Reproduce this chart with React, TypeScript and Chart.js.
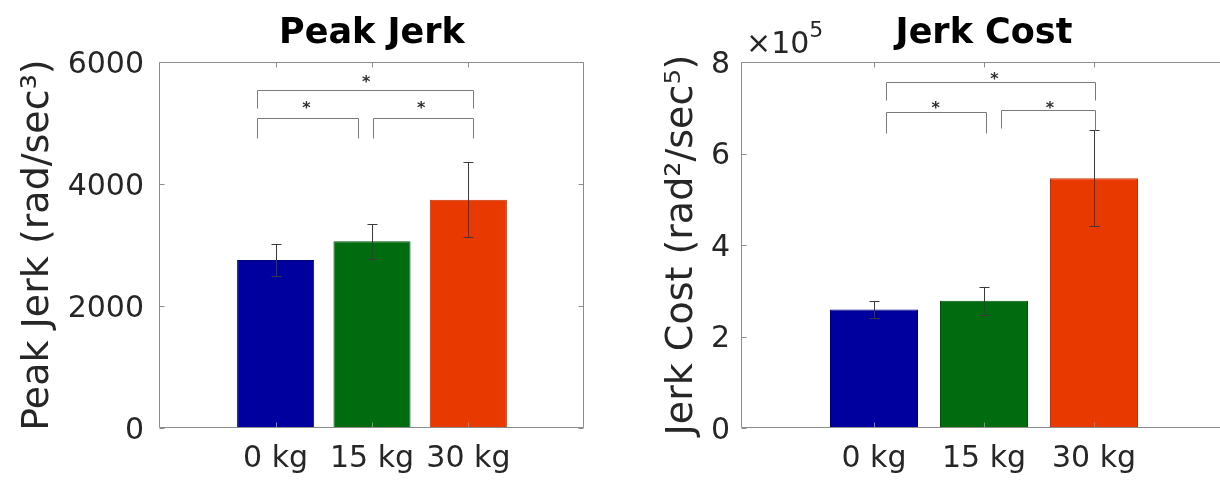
import React, { useEffect, useRef } from 'react';
import { Chart, registerables } from 'chart.js';

Chart.register(...registerables);

const FONT = 'DejaVu Sans';

// ---------- data ----------
const categories = ['0 kg', '15 kg', '30 kg'];
const categoryX = [1, 2, 3];
const barColors = ['#00009e', '#006b0f', '#e83a00'];
const barEdgeColors = ['#00007a', '#005509', '#c83200'];

const peakJerkMean = [2755, 3060, 3740];
const peakJerkErr = [260, 285, 615];
const peakJerkTicks = [0, 2000, 4000, 6000];

const jerkCostMean = [2.59e5, 2.78e5, 5.46e5];
const jerkCostErr = [0.18e5, 0.31e5, 1.05e5];
const jerkCostTicks = [0, 2e5, 4e5, 6e5, 8e5];

// significance brackets (data coordinates)
const peakBracketX1 = [0.81, 2.01, 0.81];
const peakBracketX2 = [1.85, 3.05, 3.05];
const peakBracketY = [5077, 5077, 5535];
const peakBracketDropL = [4754, 4754, 5238];
const peakBracketDropR = [4754, 4754, 5238];
const peakStarX = [1.32, 2.51, 1.94];
const peakStarY = [5323, 5323, 5749];

const costBracketX1 = [1.105, 2.156, 1.105];
const costBracketX2 = [2.014, 3.005, 3.005];
const costBracketY = [6.9e5, 6.95e5, 7.57e5];
const costBracketDropL = [6.44e5, 6.56e5, 7.17e5];
const costBracketDropR = [6.44e5, 6.51e5, 7.17e5];
const costStarX = [1.56, 2.6, 2.095];
const costStarY = [7.1e5, 7.1e5, 7.72e5];

type Panel = {
  id: string;
  title: string;
  yTitle: string;
  means: number[];
  errs: number[];
  yMax: number;
  yTicks: number[];
  tickFmt: (v: number) => string;
  bx1: number[];
  bx2: number[];
  by: number[];
  bdl: number[];
  bdr: number[];
  sx: number[];
  sy: number[];
  yAxisWidth: number;
  padRight: number;
  yTickPad: number;
  yTitlePad: number;
  exponent?: string;
  canvasLeft: number;
  canvasWidth: number;
};

const panels: Panel[] = [
  {
    id: 'peak',
    title: 'Peak Jerk',
    yTitle: 'Peak Jerk (rad/sec\u00B3)',
    means: peakJerkMean,
    errs: peakJerkErr,
    yMax: 6000,
    yTicks: peakJerkTicks,
    tickFmt: (v) => String(v),
    bx1: peakBracketX1,
    bx2: peakBracketX2,
    by: peakBracketY,
    bdl: peakBracketDropL,
    bdr: peakBracketDropR,
    sx: peakStarX,
    sy: peakStarY,
    yAxisWidth: 160,
    padRight: 26,
    yTickPad: 16,
    yTitlePad: 15,
    canvasLeft: 0,
    canvasWidth: 610,
  },
  {
    id: 'cost',
    title: 'Jerk Cost',
    yTitle: 'Jerk Cost (rad\u00B2/sec\u2075)',
    means: jerkCostMean,
    errs: jerkCostErr,
    yMax: 8e5,
    yTicks: jerkCostTicks,
    tickFmt: (v) => String(Math.round(v / 1e5)),
    bx1: costBracketX1,
    bx2: costBracketX2,
    by: costBracketY,
    bdl: costBracketDropL,
    bdr: costBracketDropR,
    sx: costStarX,
    sy: costStarY,
    yAxisWidth: 132,
    padRight: 14,
    yTickPad: 12,
    yTitlePad: 49,
    exponent: '5',
    canvasLeft: 610,
    canvasWidth: 630,
  },
];

function makeOverlay(p: Panel) {
  return {
    id: 'overlay_' + p.id,
    afterDatasetsDraw(chart: any) {
      const { ctx, chartArea: a, scales } = chart;
      const x = scales.x;
      const y = scales.y;
      const snap = (v: number) => Math.round(v) + 0.5;
      ctx.save();

      // error bars
      ctx.strokeStyle = '#3a3a3a';
      ctx.lineWidth = 1;
      p.means.forEach((m: number, i: number) => {
        const px = snap(x.getPixelForValue(categoryX[i]));
        const yTop = snap(y.getPixelForValue(m + p.errs[i]));
        const yBot = snap(y.getPixelForValue(m - p.errs[i]));
        ctx.beginPath();
        ctx.moveTo(px, yTop);
        ctx.lineTo(px, yBot);
        ctx.moveTo(px - 5, yTop);
        ctx.lineTo(px + 5, yTop);
        ctx.moveTo(px - 5, yBot);
        ctx.lineTo(px + 5, yBot);
        ctx.stroke();
      });

      // significance brackets
      ctx.strokeStyle = '#7a7a7a';
      p.by.forEach((bv: number, i: number) => {
        const x1 = snap(x.getPixelForValue(p.bx1[i]));
        const x2 = snap(x.getPixelForValue(p.bx2[i]));
        const yy = snap(y.getPixelForValue(bv));
        const yl = snap(y.getPixelForValue(p.bdl[i]));
        const yr = snap(y.getPixelForValue(p.bdr[i]));
        ctx.beginPath();
        ctx.moveTo(x1, yl);
        ctx.lineTo(x1, yy);
        ctx.lineTo(x2, yy);
        ctx.lineTo(x2, yr);
        ctx.stroke();
      });

      // stars
      ctx.fillStyle = '#303030';
      ctx.textAlign = 'center';
      ctx.textBaseline = 'alphabetic';
      const starSize = 16;
      ctx.font = `bold ${starSize}px "${FONT}"`;
      p.sx.forEach((sv: number, i: number) => {
        const px = x.getPixelForValue(sv);
        const py = y.getPixelForValue(p.sy[i]);
        ctx.fillText('*', px, py + 0.59 * starSize);
      });

      // axes box
      ctx.strokeStyle = '#8c8c8c';
      ctx.lineWidth = 1;
      const L = Math.round(a.left) - 0.5;
      const R = Math.round(a.right) - 0.5;
      const T = Math.round(a.top) + 0.5;
      const B = Math.round(a.bottom) - 0.5;
      ctx.beginPath();
      ctx.rect(L, T, R - L, B - T);
      // inward ticks
      const tl = 5;
      p.yTicks.forEach((tv: number) => {
        const py = snap(y.getPixelForValue(tv));
        ctx.moveTo(L, py);
        ctx.lineTo(L + tl, py);
        ctx.moveTo(R, py);
        ctx.lineTo(R - tl, py);
      });
      categoryX.forEach((cv: number) => {
        const px = snap(x.getPixelForValue(cv));
        ctx.moveTo(px, T);
        ctx.lineTo(px, T + tl);
        ctx.moveTo(px, B);
        ctx.lineTo(px, B - tl);
      });
      ctx.stroke();

      // exponent label
      if (p.exponent) {
        ctx.fillStyle = '#262626';
        ctx.textAlign = 'left';
        ctx.textBaseline = 'alphabetic';
        ctx.font = `30px "${FONT}"`;
        const ex = a.left + 4;
        ctx.fillText('\u00D710', ex, 53);
        const w = ctx.measureText('\u00D710').width;
        ctx.font = `22px "${FONT}"`;
        ctx.fillText(p.exponent, ex + w, 37);
      }
      ctx.restore();
    },
  };
}

function makeConfig(p: Panel): any {
  return {
    type: 'bar',
    data: {
      datasets: [
        {
          data: categoryX.map((xv, i) => ({ x: xv, y: p.means[i] })),
          backgroundColor: barColors,
          borderColor: barEdgeColors,
          borderWidth: 1,
          barPercentage: 0.8,
          categoryPercentage: 1,
        },
      ],
    },
    options: {
      animation: false,
      responsive: false,
      events: [],
      layout: { padding: { left: 0, right: p.padRight, top: 0, bottom: 0 } },
      plugins: {
        legend: { display: false },
        tooltip: { enabled: false },
        title: {
          display: true,
          text: p.title,
          fullSize: false,
          color: '#000000',
          font: { family: FONT, size: 35, weight: 'bold' },
          padding: { top: 13, bottom: 7 },
        },
      },
      scales: {
        x: {
          type: 'linear',
          min: -0.2,
          max: 4.2,
          offset: false,
          grid: { display: false, drawTicks: false, offset: false },
          border: { display: false },
          afterBuildTicks: (s: any) => {
            s.ticks = categoryX.map((v) => ({ value: v }));
          },
          afterFit: (s: any) => {
            s.height = 54;
          },
          ticks: {
            callback: (_v: any, i: number) => categories[i],
            font: { family: FONT, size: 30 },
            color: '#262626',
            padding: 13,
            maxRotation: 0,
            minRotation: 0,
            autoSkip: false,
          },
        },
        y: {
          type: 'linear',
          min: 0,
          max: p.yMax,
          afterBuildTicks: (s: any) => {
            s.ticks = p.yTicks.map((v) => ({ value: v }));
          },
          afterFit: (s: any) => {
            s.width = p.yAxisWidth;
          },
          grid: { display: false, drawTicks: false },
          border: { display: false },
          ticks: {
            callback: (v: any) => p.tickFmt(Number(v)),
            font: { family: FONT, size: 30 },
            color: '#262626',
            padding: p.yTickPad,
            labelOffset: 3,
          },
          title: {
            display: true,
            text: p.yTitle,
            color: '#262626',
            font: { family: FONT, size: 38 },
            padding: { top: p.yTitlePad, bottom: 0 },
          },
        },
      },
    },
    plugins: [makeOverlay(p)],
  };
}

function PanelChart({ p }: { p: Panel }) {
  const ref = useRef<HTMLCanvasElement | null>(null);
  useEffect(() => {
    if (!ref.current) return;
    const chart = new Chart(ref.current, makeConfig(p));
    return () => chart.destroy();
  }, [p]);
  return (
    <canvas
      ref={ref}
      width={p.canvasWidth}
      height={482}
      style={{
        position: 'absolute',
        left: p.canvasLeft,
        top: 0,
        width: p.canvasWidth,
        height: 482,
        display: 'block',
      }}
    />
  );
}

export default function App() {
  return (
    <div
      style={{
        position: 'fixed',
        left: 0,
        top: 0,
        width: 1220,
        height: 482,
        overflow: 'hidden',
        background: '#ffffff',
      }}
    >
      {panels.map((p) => (
        <PanelChart key={p.id} p={p} />
      ))}
    </div>
  );
}
